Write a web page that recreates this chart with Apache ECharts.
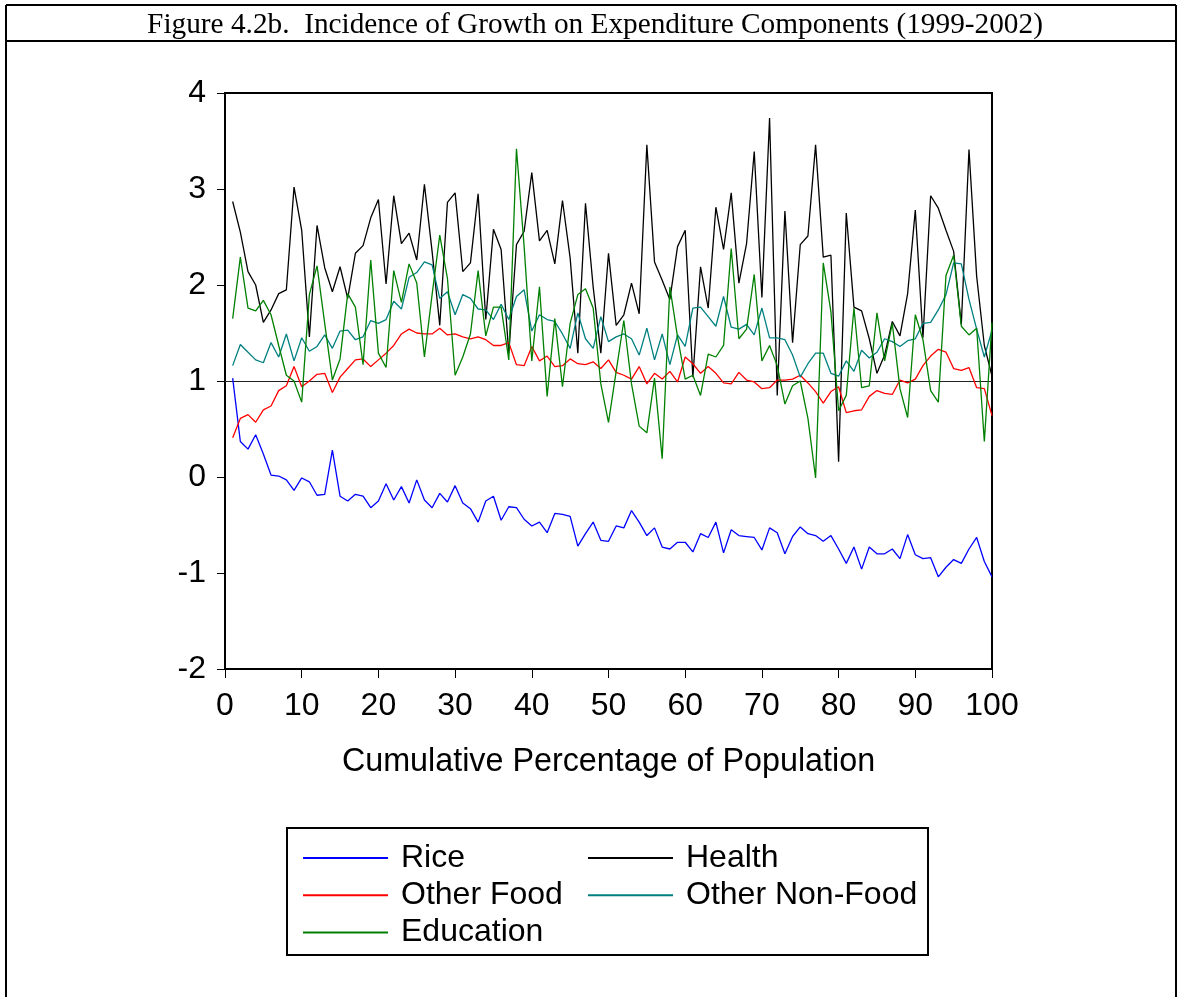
<!DOCTYPE html>
<html>
<head>
<meta charset="utf-8">
<script src="https://cdn.jsdelivr.net/npm/echarts@6/dist/echarts.min.js"></script>
<style>
html,body{margin:0;padding:0;background:#fff;}
#c{width:1180px;height:997px;}
</style>
</head>
<body>
<div id="c"></div>
<script>
// Cumulative percentage of population (x positions)
const percentiles = [1,2,3,4,5,6,7,8,9,10,11,12,13,14,15,16,17,18,19,20,21,22,23,24,25,26,27,28,29,30,31,32,33,34,35,36,37,38,39,40,41,42,43,44,45,46,47,48,49,50,51,52,53,54,55,56,57,58,59,60,61,62,63,64,65,66,67,68,69,70,71,72,73,74,75,76,77,78,79,80,81,82,83,84,85,86,87,88,89,90,91,92,93,94,95,96,97,98,99,100];

const rice = [1.03,0.37,0.29,0.44,0.24,0.02,0.01,-0.03,-0.14,-0.01,-0.05,-0.19,-0.18,0.28,-0.20,-0.25,-0.18,-0.20,-0.32,-0.25,-0.07,-0.24,-0.10,-0.27,-0.03,-0.24,-0.32,-0.17,-0.26,-0.09,-0.27,-0.33,-0.47,-0.25,-0.20,-0.45,-0.31,-0.32,-0.44,-0.51,-0.47,-0.58,-0.38,-0.39,-0.41,-0.72,-0.59,-0.47,-0.66,-0.67,-0.51,-0.53,-0.35,-0.47,-0.61,-0.53,-0.73,-0.75,-0.68,-0.68,-0.78,-0.59,-0.63,-0.47,-0.79,-0.55,-0.61,-0.62,-0.63,-0.76,-0.53,-0.58,-0.80,-0.62,-0.52,-0.59,-0.61,-0.67,-0.61,-0.75,-0.90,-0.73,-0.96,-0.73,-0.80,-0.80,-0.75,-0.85,-0.60,-0.81,-0.85,-0.84,-1.04,-0.94,-0.86,-0.90,-0.75,-0.63,-0.88,-1.04];

const health = [2.87,2.55,2.14,2.00,1.61,1.74,1.91,1.95,3.02,2.57,1.46,2.62,2.18,1.93,2.19,1.86,2.33,2.41,2.70,2.89,2.01,2.93,2.43,2.54,2.26,3.05,2.35,1.58,2.86,2.96,2.14,2.23,2.95,1.64,2.58,2.37,1.29,2.42,2.56,3.17,2.46,2.57,2.22,2.88,2.28,1.29,2.85,1.98,1.29,2.33,1.58,1.69,2.02,1.70,3.46,2.24,2.05,1.85,2.40,2.57,1.04,2.19,1.76,2.81,2.37,2.96,2.02,2.43,3.39,1.87,3.74,0.85,2.77,1.40,2.42,2.51,3.46,2.29,2.31,0.16,2.75,1.77,1.73,1.44,1.08,1.27,1.62,1.47,1.91,2.78,1.45,2.93,2.80,2.57,2.35,1.59,3.41,2.09,1.37,1.05];

const otherFood = [0.41,0.61,0.65,0.57,0.70,0.74,0.90,0.95,1.15,0.94,1.00,1.07,1.08,0.88,1.04,1.13,1.22,1.23,1.15,1.22,1.29,1.37,1.49,1.54,1.50,1.49,1.49,1.55,1.48,1.49,1.46,1.44,1.46,1.43,1.37,1.37,1.40,1.17,1.16,1.36,1.21,1.26,1.15,1.16,1.23,1.18,1.17,1.20,1.13,1.22,1.09,1.06,1.02,1.15,0.97,1.08,1.02,1.10,0.99,1.25,1.18,1.08,1.15,1.08,0.98,0.97,1.09,1.01,0.99,0.92,0.93,1.01,1.01,1.02,1.06,0.98,0.89,0.77,0.89,0.94,0.67,0.69,0.70,0.84,0.90,0.87,0.86,1.01,0.98,1.02,1.16,1.26,1.33,1.30,1.13,1.11,1.14,0.93,0.92,0.64];

const otherNonFood = [1.16,1.38,1.30,1.22,1.19,1.40,1.25,1.49,1.21,1.45,1.31,1.36,1.48,1.34,1.52,1.53,1.43,1.46,1.63,1.60,1.64,1.83,1.75,2.08,2.13,2.24,2.21,1.86,1.93,1.69,1.90,1.86,1.75,1.74,1.64,1.80,1.64,1.88,1.95,1.52,1.69,1.64,1.62,1.49,1.34,1.71,1.44,1.34,1.67,1.41,1.46,1.49,1.44,1.27,1.55,1.22,1.49,1.17,1.48,1.36,1.76,1.77,1.67,1.57,1.88,1.56,1.54,1.59,1.48,1.76,1.45,1.45,1.43,1.27,1.04,1.18,1.29,1.29,1.08,1.05,1.21,1.10,1.32,1.24,1.30,1.44,1.41,1.36,1.42,1.44,1.60,1.61,1.74,1.90,2.23,2.22,1.85,1.54,1.25,1.53];

const education = [1.65,2.29,1.76,1.73,1.84,1.69,1.37,1.06,1.00,0.78,1.90,2.20,1.60,1.01,1.23,1.91,1.77,1.17,2.26,1.29,1.14,2.15,1.82,2.22,2.02,1.25,1.90,2.52,2.07,1.06,1.25,1.49,2.15,1.47,1.77,1.77,1.22,3.42,2.40,1.21,1.98,0.84,1.65,0.94,1.60,1.90,1.96,1.76,0.97,0.57,1.10,1.63,0.97,0.53,0.46,1.03,0.19,1.98,1.46,1.02,1.06,0.85,1.28,1.25,1.37,2.38,1.44,1.54,2.11,1.21,1.37,1.16,0.76,0.95,1.00,0.61,-0.01,2.23,1.72,0.69,0.85,1.76,0.93,0.95,1.71,1.21,1.60,0.92,0.62,1.69,1.43,0.90,0.78,2.10,2.31,1.57,1.48,1.55,0.37,1.61];

const seriesNames = ['Rice','Health','Other Food','Other Non-Food','Education'];
const seriesValues = [rice, health, otherFood, otherNonFood, education];
const seriesColors = ['#0000FF','#000000','#FF0000','#008080','#008000'];

const titleText = 'Figure 4.2b.  Incidence of Growth on Expenditure Components (1999-2002)';
const xAxisName = 'Cumulative Percentage of Population';

const sans = '"Liberation Sans", Arial, sans-serif';
const serif = '"Liberation Serif", "Times New Roman", serif';

const series = seriesNames.map((name, k) => ({
  name: name,
  type: 'line',
  data: percentiles.map((p, i) => [p, seriesValues[k][i]]),
  symbol: 'none',
  showSymbol: false,
  lineStyle: { color: seriesColors[k], width: 1.3 },
  itemStyle: { color: seriesColors[k] },
  animation: false,
  z: 3
}));
series[0].markLine = {
  silent: true,
  symbol: ['none','none'],
  label: { show: false },
  lineStyle: { color: '#222', width: 1, type: 'solid' },
  data: [{ yAxis: 1 }],
  animation: false,
  z: 2
};

const legendText = { fontFamily: sans, fontSize: 32, lineHeight: 30, color: '#000', padding: [0,0,0,8] };

const chart = echarts.init(document.getElementById('c'), null, { renderer: 'canvas' });
chart.setOption({
  animation: false,
  backgroundColor: '#fff',
  grid: { left: 225, right: 188, top: 93, bottom: 328, show: true, borderColor: '#000', borderWidth: 2, backgroundColor: 'transparent' },
  xAxis: {
    type: 'value', min: 0, max: 100, interval: 10,
    name: xAxisName, nameLocation: 'middle', nameGap: 77,
    nameTextStyle: { fontFamily: sans, fontSize: 32.3, color: '#000' },
    axisLine: { show: true, onZero: false, lineStyle: { color: '#000', width: 2 } },
    axisTick: { show: true, inside: false, length: 9, lineStyle: { color: '#000', width: 1 } },
    axisLabel: { fontFamily: sans, fontSize: 32, color: '#000', margin: 21 },
    splitLine: { show: false }
  },
  yAxis: {
    type: 'value', min: -2, max: 4, interval: 1,
    axisLine: { show: true, onZero: false, lineStyle: { color: '#000', width: 2 } },
    axisTick: { show: true, inside: false, length: 8, lineStyle: { color: '#000', width: 1 } },
    axisLabel: { fontFamily: sans, fontSize: 32, color: '#000', margin: 19 },
    splitLine: { show: false }
  },
  legend: [
    {
      data: ['Rice','Other Food','Education'],
      orient: 'vertical', left: 298, top: 837, padding: 5,
      icon: 'rect', itemWidth: 85, itemHeight: 2, itemGap: 5.2,
      textStyle: legendText,
      selectedMode: false
    },
    {
      data: ['Health','Other Non-Food'],
      orient: 'vertical', left: 583, top: 837, padding: 5,
      icon: 'rect', itemWidth: 85, itemHeight: 2, itemGap: 5.2,
      textStyle: legendText,
      selectedMode: false
    }
  ],
  graphic: [
    { type: 'line', shape: { x1: 6, y1: 5, x2: 1176, y2: 5 }, style: { stroke: '#000', lineWidth: 2 }, silent: true },
    { type: 'line', shape: { x1: 6, y1: 41, x2: 1176, y2: 41 }, style: { stroke: '#000', lineWidth: 2 }, silent: true },
    { type: 'line', shape: { x1: 6, y1: 5, x2: 6, y2: 997 }, style: { stroke: '#000', lineWidth: 2 }, silent: true },
    { type: 'line', shape: { x1: 1176, y1: 5, x2: 1176, y2: 997 }, style: { stroke: '#000', lineWidth: 2 }, silent: true },
    { type: 'text', x: 595, y: 25, style: { text: titleText, fontFamily: serif, fontSize: 29.3, fill: '#000', textAlign: 'center', textVerticalAlign: 'middle' }, silent: true },
    { type: 'rect', shape: { x: 287, y: 828, width: 641, height: 127 }, style: { fill: 'none', stroke: '#000', lineWidth: 2 }, silent: true, z: -1 }
  ],
  series: series
});
</script>
</body>
</html>
